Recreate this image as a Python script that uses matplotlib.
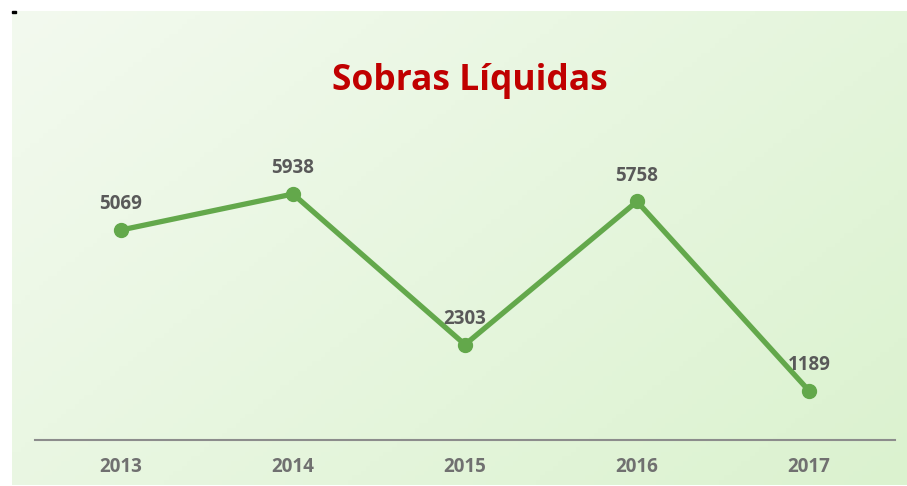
import numpy as np
import matplotlib
matplotlib.use("Agg")
import matplotlib.pyplot as plt
from matplotlib.patches import Rectangle

years = ["2013", "2014", "2015", "2016", "2017"]
values = [5069, 5938, 2303, 5758, 1189]
title = "Sobras Líquidas"

FONT = "Open Sans"
W, H = 907, 486
fig = plt.figure(figsize=(W / 100, H / 100), dpi=100)
fig.patch.set_facecolor("white")

# gradient background
bg = fig.add_axes([12 / W, 1 / H, (W - 12) / W, 474 / H])
bg.set_axis_off()
nx, ny = 200, 100
xx, yy = np.meshgrid(np.linspace(0, 1, nx), np.linspace(0, 1, ny))
t = (xx * 0.6 + yy * 0.4)
c0 = np.array([0xf3, 0xfa, 0xef]) / 255
c1 = np.array([0xdb, 0xf2, 0xcf]) / 255
img = c0[None, None, :] * (1 - t[..., None]) + c1[None, None, :] * t[..., None]
bg.imshow(img, aspect="auto", extent=[0, 1, 0, 1], origin="upper")
bg.set_xlim(0, 1)
bg.set_ylim(0, 1)

fig.patches.append(Rectangle((12 / W, 1 - 13 / H), 4 / W, 2 / H,
                             transform=fig.transFigure, color="black", zorder=5))

ax = fig.add_axes([35 / W, 1 - 440 / H, 860 / W, 290 / H])
ax.patch.set_alpha(0)
x = np.arange(len(years))
ax.plot(x, values, color="#63a84b", lw=3.8, marker="o", ms=10,
        solid_capstyle="round", zorder=3)
for xi, v in zip(x, values):
    ax.annotate(str(v), (xi, v), xytext=(0, 18.5), textcoords="offset points",
                ha="center", va="center", fontsize=13.5, fontweight="bold",
                color="#595959", family=FONT)
ax.set_xlim(-0.5, len(years) - 0.5)
ax.set_ylim(0, 7000)
for s in ["top", "right", "left"]:
    ax.spines[s].set_visible(False)
ax.spines["bottom"].set_color("#8c8c8c")
ax.spines["bottom"].set_linewidth(1.5)
ax.set_yticks([])
ax.set_xticks(x)
ax.set_xticklabels(years, fontsize=13.5, fontweight="bold", color="#707070", family=FONT)
ax.tick_params(axis="x", length=0, pad=12)

fig.text(470 / W, 1 - 81 / H, title, ha="center", va="center", fontsize=25.5,
         fontweight="bold", color="#c00000", family=FONT)

fig.savefig("out.png", dpi=100, facecolor="white")
